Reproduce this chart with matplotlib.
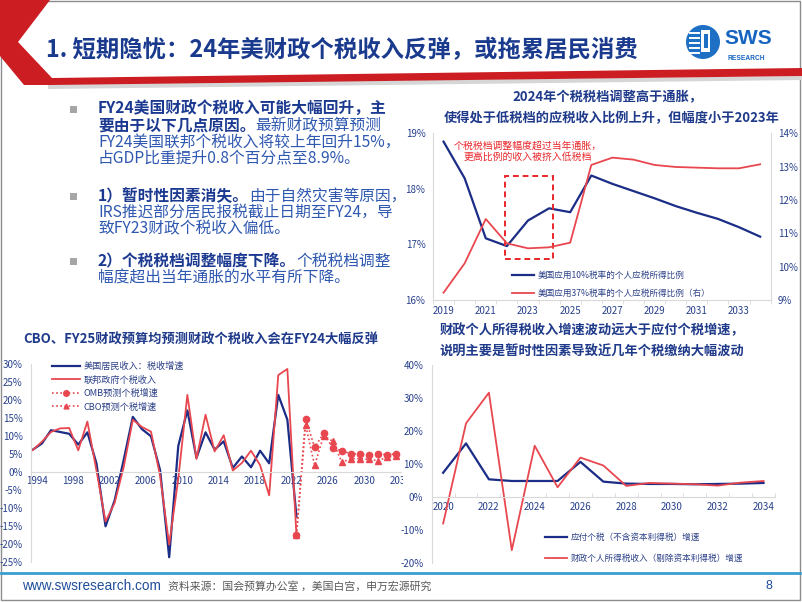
import matplotlib
matplotlib.use('Agg')
import matplotlib.pyplot as plt
from matplotlib.patches import Polygon, Rectangle, Circle
from matplotlib.lines import Line2D
from matplotlib.ticker import FuncFormatter
from matplotlib.transforms import Bbox, TransformedBbox
import numpy as np

plt.rcParams['font.family'] = ['Noto Sans CJK SC', 'DejaVu Sans']
plt.rcParams['axes.unicode_minus'] = False

W, H = 802, 602
NAVY = '#1b2d86'
RED = '#e8474f'
TICK_C = '#27408b'
AXIS_C = '#d9d9d9'
TITLE_C = '#1f3a8a'
BOLD_C = '#1b3990'
TEXT_C = '#2f58b0'
LEG_C = '#2a3f86'

# ---- data: top right (tax bracket shares) ----
bracket_years = list(range(2019, 2035))
share_10pct = [18.85, 18.19, 17.11, 16.97, 17.43, 17.65, 17.58, 18.24,
               18.09, 17.96, 17.83, 17.69, 17.57, 17.46, 17.31, 17.14]
share_37pct = [9.22, 10.10, 11.43, 10.70, 10.55, 10.58, 10.72, 13.05,
               13.27, 13.21, 13.05, 12.99, 12.97, 12.95, 12.95, 13.07]

# ---- data: lower left (growth, %) ----
hist_years = list(range(1994, 2024))
bea_tax_growth = [6.3, 8.0, 11.7, 11.2, 10.7, 7.7, 11.1, 2.5, -15.0, -7.8,
                  3.5, 15.4, 12.0, 10.0, 0.6, -23.6, 7.3, 17.2, 4.0, 11.1,
                  6.3, 8.6, 1.2, 4.4, 1.4, 6.0, 2.5, 21.5, 14.6, -12.3]
fed_iit_growth = [6.2, 8.5, 11.2, 12.2, 12.3, 6.1, 14.1, 0.5, -13.7, -8.5,
                  1.5, 14.6, 12.6, 11.3, -1.0, -20.1, -1.8, 21.5, 3.7, 16.0,
                  5.8, 10.3, 0.5, 2.6, 6.0, 2.0, -6.4, 27.0, 28.7, -17.5]
fcst_years = list(range(2023, 2035))
omb_growth = [-17.5, 14.9, 6.9, 10.9, 6.7, 6.0, 5.1, 5.1, 4.9, 5.1, 4.9, 5.1]
cbo_growth = [-17.5, 13.2, 1.9, 10.2, 8.6, 2.8, 3.8, 3.8, 3.6, 3.2, 4.3, 4.6]
ll_tick_years = list(range(1994, 2035, 4))

# ---- data: lower right (growth, %) ----
lr_years = list(range(2020, 2035))
payable_growth = [7.3, 16.2, 5.3, 4.8, 4.8, 4.8, 10.6, 4.6, 4.0, 3.9, 3.9,
                  3.8, 3.9, 4.0, 4.2]
receipts_growth = [-8.1, 22.3, 31.6, -16.2, 15.5, 2.9, 11.9, 9.5, 3.3, 4.2,
                   4.0, 3.8, 3.4, 4.3, 4.8]

fig = plt.figure(figsize=(W / 100, H / 100), dpi=100)
fig.patch.set_facecolor('white')


def fx(x):
    return x / W


def fy(y):
    return 1 - y / H


def px_axes(x0, y0, x1, y1):
    return fig.add_axes([fx(x0), fy(y1), (x1 - x0) / W, (y1 - y0) / H])


def pct(v, pos):
    return '%d%%' % round(v)


# background / decoration layer in pixel coords
bg = fig.add_axes([0, 0, 1, 1])
bg.set_xlim(0, W)
bg.set_ylim(H, 0)
bg.axis('off')
bg.add_patch(Rectangle((1, 1), W - 3, H - 3, fill=False, edgecolor='#8c8c8c', lw=1))
bg.add_patch(Polygon([(48, 84), (802, 76), (802, 80), (48, 89)], closed=True,
                     facecolor='#d6d6d6', edgecolor='none'))
bg.add_patch(Polygon([(0, 0), (50, 0), (18, 42), (52, 78), (802, 68), (802, 76),
                      (50, 85), (24, 85), (0, 56)], closed=True,
                     facecolor='#cc1d22', edgecolor='none'))
# logo
bg.add_patch(Circle((703, 42), 17, facecolor='#1e70c4', edgecolor='none'))
for yy in (33, 38, 43, 48, 53):
    bg.plot([689, 700], [yy, yy], color='white', lw=1.4, solid_capstyle='butt')
bg.add_patch(Rectangle((701, 30), 9, 22, facecolor='white', edgecolor='none'))
bg.add_patch(Rectangle((704, 34), 4, 14, facecolor='#1e70c4', edgecolor='none'))
# footer line
bg.plot([1, 800], [573, 573], color='#3a9fcf', lw=2)

fig.text(fx(46), fy(50), '1. 短期隐忧：24年美财政个税收入反弹，或拖累居民消费',
         fontsize=16.8, fontweight='bold', color='#1a3a8e', va='center', ha='left')
fig.text(fx(724), fy(39), 'SWS', fontsize=15, fontweight='bold', color='#1565c0',
         va='center', ha='left', family=['Liberation Sans', 'DejaVu Sans'])
fig.text(fx(727), fy(58), 'RESEARCH', fontsize=4.8, fontweight='bold', color='#1565c0',
         va='center', ha='left', family=['Liberation Sans', 'DejaVu Sans'])

# footer
fig.text(fx(22), fy(586), 'www.swsresearch.com', fontsize=9.8, color='#1f4e9a',
         va='center', family=['Liberation Sans', 'DejaVu Sans'])
fig.text(fx(168), fy(586), '资料来源：国会预算办公室 ，美国白宫，申万宏源研究',
         fontsize=7.8, color='#595959', va='center')
fig.text(fx(765), fy(586), '8', fontsize=9, color='#1f4e9a', va='center',
         family=['Liberation Sans', 'DejaVu Sans'])

# ---- left text block ----
renderer = fig.canvas.get_renderer()


def rich(x, y, parts, size=11.3):
    for s, bold in parts:
        t = fig.text(fx(x), fy(y), s, fontsize=size, va='center', ha='left',
                     fontweight='bold' if bold else 'normal',
                     color=BOLD_C if bold else TEXT_C)
        x += t.get_window_extent(renderer).width


paras = [
    (109, [[('FY24美国财政个税收入可能大幅回升，主', True)],
           [('要由于以下几点原因。', True), ('最新财政预算预测', False)],
           [('FY24美国联邦个税收入将较上年回升15%，', False)],
           [('占GDP比重提升0.8个百分点至8.9%。', False)]]),
    (196, [[('1）暂时性因素消失。', True), ('由于自然灾害等原因，', False)],
           [('IRS推迟部分居民报税截止日期至FY24，导', False)],
           [('致FY23财政个税收入偏低。', False)]]),
    (261, [[('2）个税税档调整幅度下降。', True), ('个税税档调整', False)],
           [('幅度超出当年通胀的水平有所下降。', False)]]),
]
for y0, lines in paras:
    bg.add_patch(Rectangle((70, y0 - 3.5), 7, 7, facecolor='#a6a6a6', edgecolor='none'))
    for i, parts in enumerate(lines):
        rich(98, y0 + i * 16.6, parts)

# ---- top right chart ----
fig.text(fx(608), fy(97), '2024年个税税档调整高于通胀，', fontsize=9.5,
         fontweight='bold', color=TITLE_C, ha='center', va='center')
fig.text(fx(612), fy(118), '使得处于低税档的应税收入比例上升，但幅度小于2023年',
         fontsize=9.5, fontweight='bold', color=TITLE_C, ha='center', va='center')

ax1 = px_axes(433, 133.3, 770.7, 300)
ax1.set_facecolor('none')
ax1.plot(bracket_years, share_10pct, color=NAVY, lw=1.6, zorder=3)
ax1.add_patch(Rectangle((2021.9, 16.74), 2.3, 1.5, fill=False, edgecolor='#e8262a',
                        lw=1.4, ls=(0, (3, 2)), zorder=4))
ax1.set_xlim(2018.5, 2034.5)
ax1.set_ylim(16, 19)
ax1.set_yticks([16, 17, 18, 19])
ax1.yaxis.set_major_formatter(FuncFormatter(pct))
ax1.set_xticks(range(2019, 2035, 2))
ax1.set_xticks(np.arange(2018.5, 2035, 1.0), minor=True)
ax2 = ax1.twinx()
ax2.plot(bracket_years, share_37pct, color=RED, lw=1.3)
ax2.set_ylim(9, 14)
ax2.set_yticks(range(9, 15))
ax2.yaxis.set_major_formatter(FuncFormatter(pct))
for a in (ax1, ax2):
    for s in a.spines.values():
        s.set_color(AXIS_C)
        s.set_linewidth(0.8)
ax1.spines['top'].set_visible(False)
ax1.spines['right'].set_visible(False)
for k in ('top', 'left', 'bottom'):
    ax2.spines[k].set_visible(False)
ax1.tick_params(axis='y', length=0, labelsize=7, labelcolor=TICK_C, pad=5.5)
ax1.tick_params(axis='x', which='major', length=0, labelsize=7, labelcolor=TICK_C, pad=4)
ax1.tick_params(axis='x', which='minor', length=3, color=AXIS_C)
ax2.tick_params(axis='y', length=0, labelsize=7, labelcolor=TICK_C, pad=5)

fig.text(fx(527.5), fy(151), '个税税档调整幅度超过当年通胀，\n更高比例的收入被挤入低税档',
         ha='center', va='center', color='#e8262a', fontsize=7.1, linespacing=1.15)

ax2.legend([Line2D([], [], color=NAVY, lw=1.6), Line2D([], [], color=RED, lw=1.3)],
           ['美国应用10%税率的个人应税所得比例', '美国应用37%税率的个人应税所得比例（右）'],
           loc='upper left', bbox_to_anchor=(fx(512), fy(271)),
           bbox_transform=fig.transFigure, frameon=False, fontsize=6.2,
           handlelength=2.6, handletextpad=0.4, labelspacing=1.0, borderpad=0,
           borderaxespad=0, labelcolor=LEG_C)

# ---- lower left chart ----
fig.text(fx(201), fy(340), 'CBO、FY25财政预算均预测财政个税收入会在FY24大幅反弹',
         fontsize=9.5, fontweight='bold', color=TITLE_C, ha='center', va='center')

ax3 = px_axes(31, 364.3, 401, 562.3)
ax3.set_facecolor('none')
ax3.plot(hist_years, bea_tax_growth, color=NAVY, lw=1.6)
ax3.plot(hist_years, fed_iit_growth, color=RED, lw=1.3)
ax3.plot(fcst_years, omb_growth, color=RED, lw=1.2, ls=(0, (1, 1.5)),
         marker='o', ms=4.5, mec=RED, mfc=RED)
ax3.plot(fcst_years, cbo_growth, color=RED, lw=1.2, ls=(0, (1, 1.5)),
         marker='^', ms=4, mec=RED, mfc=RED)
ax3.set_xlim(1993.8, 2034.5)
ax3.set_ylim(-25, 30)
ax3.set_yticks(range(-25, 31, 5))
ax3.yaxis.set_major_formatter(FuncFormatter(pct))
# labels sit slightly right of the data points in the original
ax3.set_xticks([y + 0.45 for y in ll_tick_years], [str(y) for y in ll_tick_years])
for k in ('top', 'right'):
    ax3.spines[k].set_visible(False)
ax3.spines['bottom'].set_position(('data', 0))
for k in ('left', 'bottom'):
    ax3.spines[k].set_color(AXIS_C)
    ax3.spines[k].set_linewidth(0.8)
ax3.tick_params(axis='y', length=0, labelsize=7, labelcolor=TICK_C, pad=6)
ax3.tick_params(axis='x', length=0, labelsize=7, labelcolor=TICK_C, pad=3)
clip = TransformedBbox(Bbox([[0, 0], [fx(403), 1]]), fig.transFigure)
for lab in ax3.get_xticklabels():
    lab.set_clip_box(clip)
    lab.set_clip_on(True)

ax3.legend([Line2D([], [], color=NAVY, lw=1.6), Line2D([], [], color=RED, lw=1.3),
            Line2D([], [], color=RED, lw=1.2, ls=(0, (1, 1.5)), marker='o', ms=4),
            Line2D([], [], color=RED, lw=1.2, ls=(0, (1, 1.5)), marker='^', ms=3.5)],
           ['美国居民收入：税收增速', '联邦政府个税收入', 'OMB预测个税增速', 'CBO预测个税增速'],
           loc='upper left', bbox_to_anchor=(fx(52), fy(362)),
           bbox_transform=fig.transFigure, frameon=False, fontsize=6.6,
           handlelength=3.1, handletextpad=0.35, labelspacing=0.45, borderpad=0,
           borderaxespad=0, labelcolor=LEG_C)

# ---- lower right chart ----
fig.text(fx(440), fy(330), '财政个人所得税收入增速波动远大于应付个税增速，',
         fontsize=9.5, fontweight='bold', color=TITLE_C, ha='left', va='center')
fig.text(fx(440), fy(351.7), '说明主要是暂时性因素导致近几年个税缴纳大幅波动',
         fontsize=9.5, fontweight='bold', color=TITLE_C, ha='left', va='center')

ax4 = px_axes(431.7, 365, 775, 562.7)
ax4.set_facecolor('none')
ax4.plot(lr_years, payable_growth, color=NAVY, lw=1.6)
ax4.plot(lr_years, receipts_growth, color=RED, lw=1.3)
ax4.set_xlim(2019.5, 2034.5)
ax4.set_ylim(-20, 40)
ax4.set_yticks(range(-20, 41, 10))
ax4.yaxis.set_major_formatter(FuncFormatter(pct))
ax4.set_xticks(range(2020, 2035, 2))
ax4.set_xticks(np.arange(2019.5, 2035, 1.0), minor=True)
for k in ('top', 'right'):
    ax4.spines[k].set_visible(False)
ax4.spines['bottom'].set_position(('data', 0))
for k in ('left', 'bottom'):
    ax4.spines[k].set_color(AXIS_C)
    ax4.spines[k].set_linewidth(0.8)
ax4.tick_params(axis='y', length=0, labelsize=7, labelcolor=TICK_C, pad=6)
ax4.tick_params(axis='x', which='major', length=0, labelsize=7, labelcolor=TICK_C, pad=4)
ax4.tick_params(axis='x', which='minor', length=3, direction='in', color=AXIS_C)

ax4.legend([Line2D([], [], color=NAVY, lw=1.6), Line2D([], [], color=RED, lw=1.3)],
           ['应付个税（不含资本利得税）增速', '财政个人所得税收入（剔除资本利得税）增速'],
           loc='upper left', bbox_to_anchor=(fx(545), fy(533)),
           bbox_transform=fig.transFigure, frameon=False, fontsize=6.2,
           handlelength=2.6, handletextpad=0.4, labelspacing=1.4, borderpad=0,
           borderaxespad=0, labelcolor=LEG_C)

fig.savefig('out.png', dpi=100)
